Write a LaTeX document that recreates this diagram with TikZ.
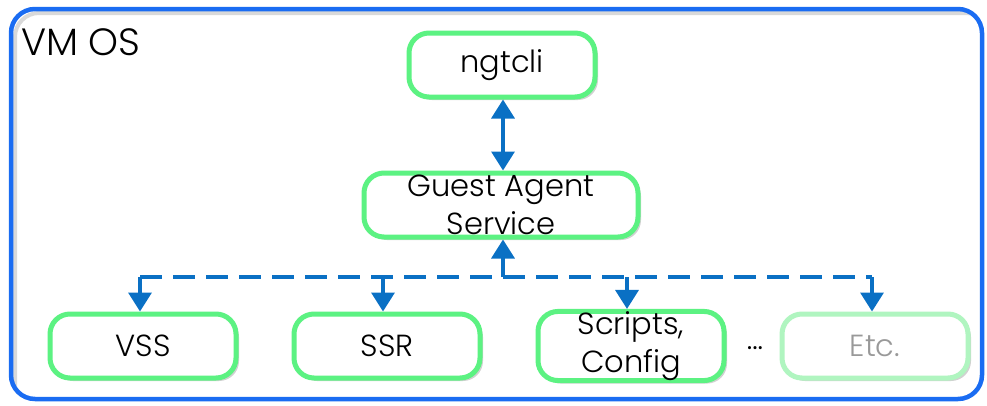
\documentclass[tikz,border=0pt]{standalone}
\usepackage{fontspec}
\setmainfont{Poppins}[UprightFont=* Light]
\usetikzlibrary{arrows.meta,shadows}
\definecolor{vmblue}{HTML}{1A6CF2}
\definecolor{boxgreen}{HTML}{5CF282}
\definecolor{paleGreen}{HTML}{B0F5C0}
\definecolor{arrblue}{HTML}{0A70C4}
\tikzset{
  comp/.style={draw=boxgreen, line width=5pt, rounded corners=20pt, fill=white,
    minimum width=186pt, minimum height=64pt, align=center, inner sep=0pt,
    font=\fontsize{30.5}{38}\selectfont, drop shadow={shadow xshift=3pt, shadow yshift=-3pt, fill=black!18, opacity=1}},
  link/.style={draw=arrblue, line width=3.5pt, -{Triangle[length=19pt,width=23pt]}},
}
\begin{document}
\begin{tikzpicture}[x=1pt,y=-1pt]
\useasboundingbox (0,0) rectangle (987,405);
\begin{scope}
\clip[rounded corners=24pt] (11,9) rectangle (982,399);
\draw[black!15, line width=4pt, rounded corners=24pt] (15,13) rectangle (990,410);
\end{scope}
\node[draw=vmblue, line width=4.5pt, rounded corners=24pt, minimum width=971pt, minimum height=390pt, inner sep=0pt] (vm) at (496.5,204) {};
\node[anchor=west, font=\fontsize{38}{44}\selectfont] (vmos) at (18,42) {VM OS};
\node[comp] (ngt) at (502,65) {ngtcli};
\node[comp, minimum width=274pt] (gas) at (501,205) {Guest Agent\\Service};
\node[comp] (vss) at (143,346) {VSS};
\node[comp] (ssr) at (387,346) {SSR};
\node[comp] (scr) at (631,346) {Scripts,\\Config};
\node[comp, draw=paleGreen, text=black!40] (etc) at (875,346) {Etc.};
\node[font=\fontsize{30}{34}\selectfont] (dots) at (755,348) {...};
\coordinate (bus) at (503,277);
\draw[arrblue, line width=3.5pt, dash pattern=on 22pt off 11pt] (140,277) -- (872,277);
\draw[link, {Triangle[length=19pt,width=23pt]}-{Triangle[length=19pt,width=23pt]}] (ngt.south -| bus) -- (gas.north -| bus);
\draw[link] (bus) -- (gas.south -| bus);
\draw[link] (140,277) -- (vss.north -| 140,0);
\draw[link] (383,277) -- (ssr.north -| 383,0);
\draw[link] (627,277) -- (scr.north -| 627,0);
\draw[link] (872,277) -- (etc.north -| 872,0);
\end{tikzpicture}
\end{document}
